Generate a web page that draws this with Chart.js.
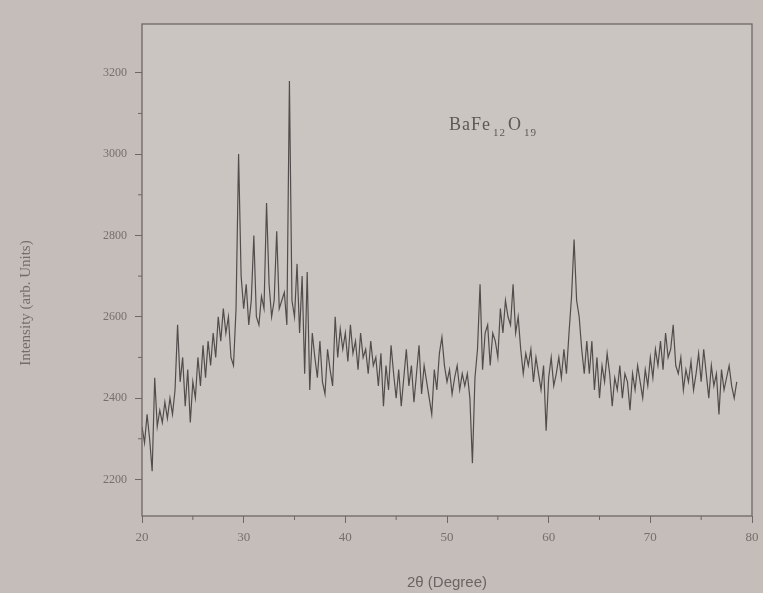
<!DOCTYPE html>
<html>
<head>
<meta charset="utf-8">
<script src="https://cdn.jsdelivr.net/npm/chart.js@4.4.1/dist/chart.umd.min.js"></script>
<style>
  html, body { margin: 0; padding: 0; background: #c4bdb9; }
  #wrap { width: 763px; height: 593px; }
</style>
</head>
<body>
<div id="wrap"><canvas id="chart" width="763" height="593"></canvas></div>
<script>
// 2-theta scan from 20 deg, one reading every 0.25 deg (rows = whole degrees)
const startAngle = 20;
const angleStep = 0.25;
const intensity = [
  2330, 2290, 2360, 2300,  // 20
  2220, 2450, 2330, 2370,  // 21
  2340, 2390, 2350, 2400,  // 22
  2360, 2420, 2580, 2440,  // 23
  2500, 2380, 2470, 2340,  // 24
  2440, 2400, 2500, 2430,  // 25
  2530, 2450, 2540, 2480,  // 26
  2560, 2500, 2600, 2540,  // 27
  2620, 2560, 2600, 2500,  // 28
  2480, 2620, 3000, 2700,  // 29
  2620, 2680, 2580, 2640,  // 30
  2800, 2600, 2580, 2650,  // 31
  2620, 2880, 2680, 2600,  // 32
  2640, 2810, 2620, 2640,  // 33
  2660, 2580, 3180, 2640,  // 34
  2600, 2730, 2560, 2700,  // 35
  2460, 2710, 2420, 2560,  // 36
  2500, 2450, 2540, 2440,  // 37
  2410, 2520, 2470, 2430,  // 38
  2600, 2500, 2570, 2520,  // 39
  2560, 2490, 2580, 2510,  // 40
  2540, 2470, 2560, 2500,  // 41
  2520, 2460, 2540, 2480,  // 42
  2500, 2430, 2510, 2380,  // 43
  2480, 2420, 2530, 2460,  // 44
  2400, 2470, 2380, 2450,  // 45
  2520, 2430, 2480, 2390,  // 46
  2460, 2530, 2410, 2480,  // 47
  2440, 2400, 2360, 2470,  // 48
  2420, 2510, 2550, 2480,  // 49
  2440, 2470, 2410, 2450,  // 50
  2480, 2420, 2460, 2430,  // 51
  2460, 2400, 2240, 2450,  // 52
  2520, 2680, 2470, 2560,  // 53
  2580, 2480, 2560, 2540,  // 54
  2500, 2620, 2560, 2640,  // 55
  2600, 2580, 2680, 2560,  // 56
  2600, 2520, 2460, 2510,  // 57
  2480, 2520, 2440, 2500,  // 58
  2460, 2420, 2480, 2320,  // 59
  2450, 2500, 2430, 2460,  // 60
  2500, 2450, 2520, 2460,  // 61
  2560, 2650, 2790, 2640,  // 62
  2600, 2520, 2460, 2540,  // 63
  2460, 2540, 2420, 2500,  // 64
  2400, 2480, 2440, 2510,  // 65
  2460, 2380, 2450, 2420,  // 66
  2480, 2400, 2460, 2440,  // 67
  2370, 2460, 2420, 2480,  // 68
  2440, 2400, 2470, 2430,  // 69
  2500, 2450, 2520, 2480,  // 70
  2540, 2470, 2560, 2500,  // 71
  2520, 2580, 2480, 2460,  // 72
  2500, 2420, 2470, 2440,  // 73
  2490, 2420, 2460, 2510,  // 74
  2440, 2520, 2460, 2400,  // 75
  2480, 2430, 2460, 2360,  // 76
  2470, 2420, 2450, 2480,  // 77
  2430, 2400, 2440         // 78
];
const xTicks = [20, 30, 40, 50, 60, 70, 80];
const xMinorTicks = [25, 35, 45, 55, 65, 75];
const yTicks = [2200, 2400, 2600, 2800, 3000, 3200];
const yMinorTicks = [2300, 2500, 2700, 2900, 3100];

const points = intensity.map((v, i) => ({ x: startAngle + i * angleStep, y: v }));

const inkColor = '#6d6866';
const serif = "'Liberation Serif', 'DejaVu Serif', serif";

// fonds, cadre, petites graduations, titre Y et etiquette du compose
const decor = {
  id: 'decor',
  beforeDraw(chart) {
    const { ctx, chartArea: a } = chart;
    ctx.save();
    ctx.fillStyle = '#c4bdb9';
    ctx.fillRect(0, 0, chart.width, chart.height);
    ctx.fillStyle = '#cbc5c1';
    ctx.fillRect(a.left, a.top, a.right - a.left, a.bottom - a.top);
    ctx.restore();
  },
  afterDraw(chart) {
    const { ctx, chartArea: a, scales } = chart;
    ctx.save();
    ctx.strokeStyle = inkColor;
    ctx.lineWidth = 1.3;
    ctx.strokeRect(a.left, a.top, a.right - a.left, a.bottom - a.top);

    ctx.lineWidth = 1;
    ctx.beginPath();
    xMinorTicks.forEach(v => {
      const px = scales.x.getPixelForValue(v);
      ctx.moveTo(px, a.bottom);
      ctx.lineTo(px, a.bottom + 4);
    });
    yMinorTicks.forEach(v => {
      const py = scales.y.getPixelForValue(v);
      ctx.moveTo(a.left, py);
      ctx.lineTo(a.left - 4, py);
    });
    ctx.stroke();

    // titre de l'axe Y
    ctx.fillStyle = '#736e6b';
    ctx.font = '15px ' + serif;
    ctx.textAlign = 'center';
    ctx.textBaseline = 'middle';
    ctx.translate(26, 303);
    ctx.rotate(-Math.PI / 2);
    ctx.fillText('Intensity (arb. Units)', 0, 0);
    ctx.restore();

    // BaFe12O19
    ctx.save();
    ctx.fillStyle = '#5e5957';
    ctx.textBaseline = 'alphabetic';
    ctx.letterSpacing = '1px';
    let x = 449;
    const y = 130;
    const parts = [['BaFe', 18, 0], ['12', 11, 6], ['O', 18, 0], ['19', 11, 6]];
    parts.forEach(([t, size, dy]) => {
      ctx.font = size + 'px ' + serif;
      ctx.fillText(t, x, y + dy);
      x += ctx.measureText(t).width + 2;
    });
    ctx.restore();
  }
};

const ctx = document.getElementById('chart').getContext('2d');
new Chart(ctx, {
  type: 'line',
  data: {
    datasets: [{
      data: points,
      borderColor: '#524d4c',
      borderWidth: 1.2,
      pointRadius: 0,
      tension: 0,
      fill: false
    }]
  },
  options: {
    responsive: false,
    animation: false,
    events: [],
    layout: { padding: { top: 24, right: 11, left: 0, bottom: 0 } },
    plugins: { legend: { display: false }, tooltip: { enabled: false } },
    scales: {
      x: {
        type: 'linear',
        min: 20,
        max: 80,
        afterBuildTicks: s => { s.ticks = xTicks.map(v => ({ value: v })); },
        afterFit: s => { s.height = 77; s.paddingLeft = 0; s.paddingRight = 0; },
        border: { display: false },
        grid: { drawOnChartArea: false, tickLength: 7, tickColor: inkColor, lineWidth: 1 },
        ticks: {
          color: '#75706d',
          font: { family: serif, size: 13 },
          padding: 7,
          maxRotation: 0,
          callback: v => String(v)
        },
        title: {
          display: true,
          text: '2\u03b8 (Degree)',
          color: '#6a6563',
          font: { family: "'Liberation Sans', Arial, sans-serif", size: 15 },
          padding: { top: 14, bottom: 1 }
        }
      },
      y: {
        min: 2110,
        max: 3320,
        afterBuildTicks: s => { s.ticks = yTicks.map(v => ({ value: v })); },
        afterFit: s => { s.width = 142; },
        border: { display: false },
        grid: { drawOnChartArea: false, tickLength: 7, tickColor: inkColor, lineWidth: 1 },
        ticks: {
          color: '#75706d',
          font: { family: serif, size: 12 },
          padding: 8,
          callback: v => String(v)
        }
      }
    }
  },
  plugins: [decor]
});
</script>
</body>
</html>
